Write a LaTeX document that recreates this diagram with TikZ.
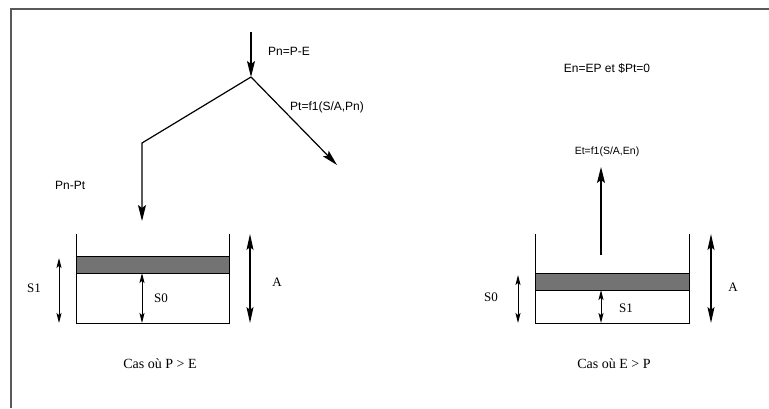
\documentclass[tikz,border=0pt]{standalone}
\usepackage{fontspec}
\setmainfont{Liberation Serif}
\setsansfont{Liberation Sans}
\usetikzlibrary{arrows.meta}
\begin{document}
\begin{tikzpicture}[x=1pt,y=-1pt,
  frameline/.style={line width=2pt,black!65},
  wall/.style={line width=1pt},
  layer/.style={fill=black!55,draw=black,line width=0.8pt},
  flow/.style={line width=1.2pt,-{Stealth[length=16pt,width=8pt,inset=3pt]}},
  smalldarr/.style={line width=1pt,{Stealth[length=10pt,width=5pt,inset=2pt]}-{Stealth[length=10pt,width=5pt,inset=2pt]}},
  bigdarr/.style={line width=1.1pt,{Stealth[length=16pt,width=7pt,inset=3pt]}-{Stealth[length=16pt,width=7pt,inset=3pt]}},
  flab/.style={font=\sffamily\fontsize{12}{12}\selectfont,inner sep=0pt},
  flabs/.style={font=\sffamily\fontsize{10.5}{11}\selectfont,inner sep=0pt},
  slab/.style={font=\fontsize{13}{13}\selectfont,inner sep=0pt},
  caslab/.style={font=\fontsize{14}{14}\selectfont,inner sep=0pt}]
\useasboundingbox (0,0) rectangle (769,408);
% frame
\draw[frameline] (11,408) -- (11,9) -- (769,9);

% ---------- left case ----------
\coordinate (src) at (251,32);
\coordinate (jn) at (251,77);
\coordinate (rt) at (337,165);
\coordinate (bend) at (142,143);
\coordinate (dn) at (142,221);
\draw[flow] (src) -- (jn);
\draw[flow] (jn) -- (rt);
\draw[flow] (jn) -- (bend) -- (dn);
\node[flab,anchor=west] (pne) at (268,51) {Pn=P-E};
\node[flab,anchor=west] (ptf) at (290,107) {Pt=f1(S/A,Pn)};
\node[flab,anchor=west] (pnpt) at (55,185) {Pn-Pt};

\filldraw[layer] (76,256) rectangle (229,273);
\draw[wall] (76,234) -- (76,323) -- (229,323) -- (229,234);
\coordinate (s1t) at (59,258); \coordinate (s1b) at (59,323);
\draw[smalldarr] (s1t) -- (s1b);
\coordinate (s0t) at (142,273); \coordinate (s0b) at (142,323);
\draw[smalldarr] (s0t) -- (s0b);
\coordinate (at) at (250,234); \coordinate (ab) at (250,323);
\draw[bigdarr] (at) -- (ab);
\node[slab] (ls1) at (34,288) {S1};
\node[slab] (ls0) at (161,298) {S0};
\node[slab] (la) at (277,282) {A};
\node[caslab] (capl) at (160,364) {Cas où P > E};

% ---------- right case ----------
\node[flab] (enep) at (607,68) {En=EP et \$Pt=0};
\node[flabs] (etf) at (607,152) {Et=f1(S/A,En)};
\coordinate (ub) at (601,255); \coordinate (ut) at (601,167);
\draw[flow] (ub) -- (ut);

\filldraw[layer] (535,273) rectangle (689,290);
\draw[wall] (535,234) -- (535,323) -- (689,323) -- (689,234);
\coordinate (rs0t) at (518,275); \coordinate (rs0b) at (518,323);
\draw[smalldarr] (rs0t) -- (rs0b);
\coordinate (rs1t) at (601,290); \coordinate (rs1b) at (601,323);
\draw[smalldarr] (rs1t) -- (rs1b);
\coordinate (rat) at (711,234); \coordinate (rab) at (711,323);
\draw[bigdarr] (rat) -- (rab);
\node[slab] (rls0) at (491,297) {S0};
\node[slab] (rls1) at (626,308) {S1};
\node[slab] (rla) at (733,287) {A};
\node[caslab] (capr) at (614,364) {Cas où E > P};
\end{tikzpicture}
\end{document}
